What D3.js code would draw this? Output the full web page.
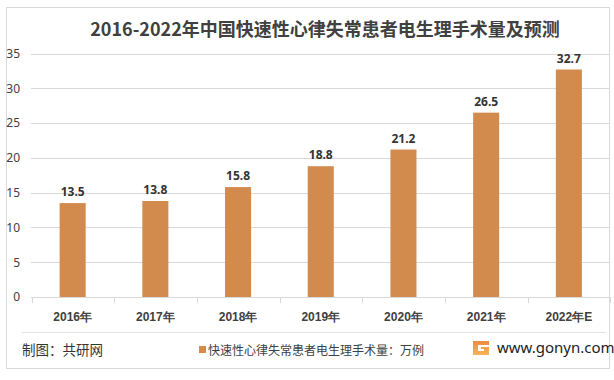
<!DOCTYPE html>
<html><head><meta charset="utf-8">
<script src="https://cdn.jsdelivr.net/npm/d3@7"></script>
<style>body{margin:0;background:#fff;} svg{display:block;font-family:"Noto Sans CJK SC","Microsoft YaHei",sans-serif;}</style>
</head><body>
<svg id="c" width="614" height="380"></svg>
<script>
const categories = ["2016年","2017年","2018年","2019年","2020年","2021年","2022年E"];
const values = [13.5,13.8,15.8,18.8,21.2,26.5,32.7];
const yTicks = [0,5,10,15,20,25,30,35];
const title = "2016-2022年中国快速性心律失常患者电生理手术量及预测";
const legendLabel = "快速性心律失常患者电生理手术量：万例";

const svg = d3.select("#c");
svg.append("rect").attr("x",6.5).attr("y",7.5).attr("width",603).attr("height",361)
  .attr("fill","#fff").attr("stroke","#d9d9d9");

const x = d3.scaleBand().domain(categories).range([31.5,610]).paddingInner(0.685).paddingOuter(0.34);
const y = d3.scaleLinear().domain([0,35]).range([297,53.5]);

// grid
svg.append("g").selectAll("line").data(yTicks.filter(d=>d>0)).join("line")
  .attr("x1",31).attr("x2",610).attr("y1",d=>Math.round(y(d))+0.5).attr("y2",d=>Math.round(y(d))+0.5)
  .attr("stroke","#d9d9d9");

// y axis labels
const ya = svg.append("g").attr("transform","translate(20,0)")
  .call(d3.axisLeft(y).tickValues(yTicks).tickSize(0).tickPadding(0));
ya.select(".domain").remove();
ya.selectAll("text").attr("font-size",12).attr("fill","#404040").attr("font-family","'Noto Sans',sans-serif");

// x axis
const xa = svg.append("g").attr("transform","translate(0,297.5)")
  .call(d3.axisBottom(x).tickSize(0).tickPadding(15));
xa.select(".domain").attr("stroke","#d9d9d9").attr("d","M31,0H610");
xa.selectAll("text").attr("font-size",12).attr("fill","#404040").attr("font-weight","bold");
const step = x.step();
svg.append("g").selectAll("line").data(d3.range(categories.length+1)).join("line")
  .attr("x1",i=>Math.round(31.5+i*step)+0.5).attr("x2",i=>Math.round(31.5+i*step)+0.5)
  .attr("y1",297).attr("y2",303).attr("stroke","#d9d9d9");

// bars
svg.append("g").selectAll("rect").data(values).join("rect")
  .attr("x",(d,i)=>x(categories[i])).attr("width",x.bandwidth())
  .attr("y",d=>y(d)).attr("height",d=>y(0)-y(d)).attr("fill","#d38b4d");

// value labels
svg.append("g").selectAll("text").data(values).join("text")
  .attr("x",(d,i)=>x(categories[i])+x.bandwidth()/2).attr("y",d=>y(d)-7)
  .attr("text-anchor","middle").attr("font-size",12).attr("font-weight","bold")
  .attr("fill","#333").attr("font-family","'Noto Sans',sans-serif")
  .text(d=>d.toFixed(1));

// title
svg.append("text").attr("x",325).attr("y",36).attr("text-anchor","middle")
  .attr("font-size",18).attr("font-weight","bold").attr("fill","#404040").text(title);

// separator
svg.append("line").attr("x1",22).attr("x2",606).attr("y1",332.5).attr("y2",332.5).attr("stroke","#e3e3e3");

// footer
svg.append("text").attr("x",22).attr("y",355).attr("font-size",13.5).attr("fill","#333").text("制图：共研网");
svg.append("rect").attr("x",199).attr("y",346).attr("width",7).attr("height",7).attr("fill","#d38b4d");
svg.append("text").attr("x",208).attr("y",355).attr("font-size",12).attr("fill","#404040").text(legendLabel);

// logo
const grad = svg.append("defs").append("linearGradient").attr("id","lg").attr("x1",0).attr("y1",0).attr("x2",0).attr("y2",1);
grad.append("stop").attr("offset",0).attr("stop-color","#f08a3c");
grad.append("stop").attr("offset",1).attr("stop-color","#f7b45a");
svg.append("path").attr("d","M473,341H489V345H478V351H484V349H481V347H489V355H473Z").attr("fill","url(#lg)");
svg.append("text").attr("x",497).attr("y",353).attr("font-size",15).attr("fill","#222")
  .attr("font-family","'Noto Sans',sans-serif").text("www.gonyn.com");
</script>
</body></html>
